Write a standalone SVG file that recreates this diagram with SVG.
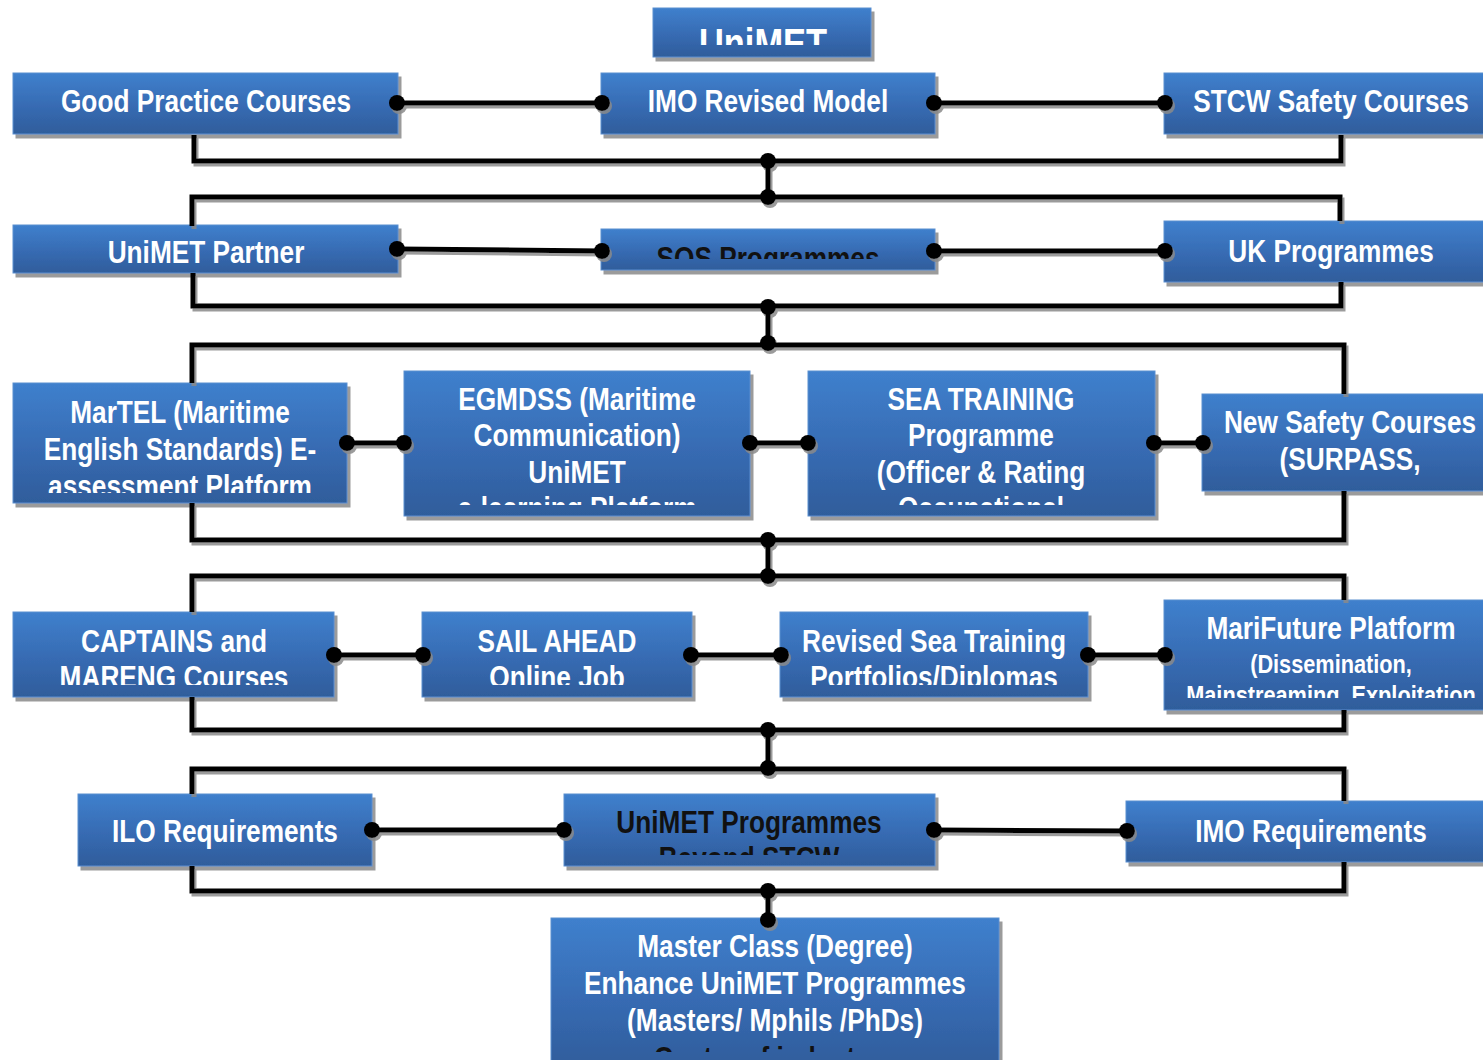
<svg xmlns="http://www.w3.org/2000/svg" width="1483" height="1060" viewBox="0 0 1483 1060">
<style>
.box{fill:url(#bg);stroke:#5b8fd0;stroke-width:1;filter:url(#bsh)}
.t{font-family:"Liberation Sans",Arial,sans-serif;font-weight:bold;font-size:32px;fill:#ffffff;text-anchor:middle}
.s{font-size:26.5px}
.big{font-size:42px}
.d{fill:#111111}
.ln{fill:none;stroke:#000;stroke-width:5}
.dot{fill:#000}
</style>
<defs>
<linearGradient id="bg" x1="0" y1="0" x2="0" y2="1">
<stop offset="0" stop-color="#3f80cd"/>
<stop offset="0.6" stop-color="#3669b0"/>
<stop offset="1" stop-color="#2f5d9b"/>
</linearGradient>
<filter id="bsh" x="-5%" y="-10%" width="115%" height="130%">
<feDropShadow dx="3" dy="4" stdDeviation="0.6" flood-color="#8a8a8a" flood-opacity="0.85"/>
</filter>
<filter id="csh" x="-5%" y="-5%" width="110%" height="110%">
<feDropShadow dx="2" dy="3" stdDeviation="0.6" flood-color="#8a8a8a" flood-opacity="0.85"/>
</filter>
<clipPath id="c_title"><rect x="653" y="8" width="218" height="37"/></clipPath>
<clipPath id="c_sos"><rect x="601" y="229" width="334" height="30"/></clipPath>
<clipPath id="c_martel"><rect x="13" y="383" width="334" height="110"/></clipPath>
<clipPath id="c_egm"><rect x="404" y="371" width="346" height="134"/></clipPath>
<clipPath id="c_sea"><rect x="808" y="371" width="347" height="134"/></clipPath>
<clipPath id="c_new"><rect x="1202" y="394" width="297" height="86"/></clipPath>
<clipPath id="c_cap"><rect x="13" y="612" width="321" height="73"/></clipPath>
<clipPath id="c_sail"><rect x="422" y="612" width="270" height="73"/></clipPath>
<clipPath id="c_rev"><rect x="780" y="612" width="308" height="73"/></clipPath>
<clipPath id="c_mari"><rect x="1164" y="600" width="335" height="98"/></clipPath>
<clipPath id="c_uprog"><rect x="564" y="794" width="371" height="61"/></clipPath>
<clipPath id="c_master"><rect x="551" y="918" width="448" height="134"/></clipPath>
</defs>
<rect width="1483" height="1060" fill="#ffffff"/>

<g id="n_title">
<rect class="box" x="653" y="8" width="218" height="49"/>
<g clip-path="url(#c_title)"><text class="t big" transform="translate(763 58) scale(0.82 1)">UniMET</text></g>
</g>

<g id="n_good">
<rect class="box" x="13" y="73" width="385" height="61"/>
<text class="t" transform="translate(206 112) scale(0.82 1)">Good Practice Courses</text>
</g>
<g id="n_imo">
<rect class="box" x="601" y="73" width="334" height="61"/>
<text class="t" transform="translate(768 112) scale(0.82 1)">IMO Revised Model</text>
</g>
<g id="n_stcw">
<rect class="box" x="1164" y="73" width="335" height="61"/>
<text class="t" transform="translate(1331 112) scale(0.82 1)">STCW Safety Courses</text>
</g>

<g id="n_partner">
<rect class="box" x="13" y="225" width="385" height="48"/>
<text class="t" transform="translate(206 263) scale(0.82 1)">UniMET Partner</text>
</g>
<g id="n_sos">
<rect class="box" x="601" y="229" width="334" height="41"/>
<g clip-path="url(#c_sos)"><text class="t d" transform="translate(768 269) scale(0.82 1)">SOS Programmes</text></g>
</g>
<g id="n_uk">
<rect class="box" x="1164" y="221" width="335" height="61"/>
<text class="t" transform="translate(1331 262) scale(0.82 1)">UK Programmes</text>
</g>

<g id="n_martel">
<rect class="box" x="13" y="383" width="334" height="120"/>
<g clip-path="url(#c_martel)">
<text class="t" transform="translate(180 423) scale(0.82 1)">MarTEL (Maritime</text>
<text class="t" transform="translate(180 460) scale(0.82 1)">English Standards) E-</text>
<text class="t" transform="translate(180 497) scale(0.82 1)">assessment Platform</text>
</g>
</g>
<g id="n_egmdss">
<rect class="box" x="404" y="371" width="346" height="145"/>
<g clip-path="url(#c_egm)">
<text class="t" transform="translate(577 410) scale(0.82 1)">EGMDSS (Maritime</text>
<text class="t" transform="translate(577 446) scale(0.82 1)">Communication)</text>
<text class="t" transform="translate(577 483) scale(0.82 1)">UniMET</text>
<text class="t" transform="translate(577 519) scale(0.82 1)">e-learning Platform</text>
</g>
</g>
<g id="n_sea">
<rect class="box" x="808" y="371" width="347" height="145"/>
<g clip-path="url(#c_sea)">
<text class="t" transform="translate(981 410) scale(0.82 1)">SEA TRAINING</text>
<text class="t" transform="translate(981 446) scale(0.82 1)">Programme</text>
<text class="t" transform="translate(981 483) scale(0.82 1)">(Officer &amp; Rating</text>
<text class="t" transform="translate(981 519) scale(0.82 1)">Occupational</text>
</g>
</g>
<g id="n_newsafety">
<rect class="box" x="1202" y="394" width="297" height="97"/>
<g clip-path="url(#c_new)">
<text class="t" transform="translate(1350 433) scale(0.82 1)">New Safety Courses</text>
<text class="t" transform="translate(1350 470) scale(0.82 1)">(SURPASS,</text>
</g>
</g>

<g id="n_captains">
<rect class="box" x="13" y="612" width="321" height="85"/>
<g clip-path="url(#c_cap)">
<text class="t" transform="translate(174 652) scale(0.82 1)">CAPTAINS and</text>
<text class="t" transform="translate(174 688) scale(0.82 1)">MARENG Courses</text>
</g>
</g>
<g id="n_sail">
<rect class="box" x="422" y="612" width="270" height="85"/>
<g clip-path="url(#c_sail)">
<text class="t" transform="translate(557 652) scale(0.82 1)">SAIL AHEAD</text>
<text class="t" transform="translate(557 688) scale(0.82 1)">Online Job</text>
</g>
</g>
<g id="n_revised">
<rect class="box" x="780" y="612" width="308" height="85"/>
<g clip-path="url(#c_rev)">
<text class="t" transform="translate(934 652) scale(0.82 1)">Revised Sea Training</text>
<text class="t" transform="translate(934 688) scale(0.82 1)">Portfolios/Diplomas</text>
</g>
</g>
<g id="n_marifuture">
<rect class="box" x="1164" y="600" width="335" height="110"/>
<g clip-path="url(#c_mari)">
<text class="t" transform="translate(1331 639) scale(0.82 1)">MariFuture Platform</text>
<text class="t s" transform="translate(1331 673) scale(0.82 1)">(Dissemination,</text>
<text class="t s" transform="translate(1331 704) scale(0.82 1)">Mainstreaming, Exploitation</text>
</g>
</g>

<g id="n_ilo">
<rect class="box" x="78" y="794" width="294" height="72"/>
<text class="t" transform="translate(225 842) scale(0.82 1)">ILO Requirements</text>
</g>
<g id="n_unimetprog">
<rect class="box" x="564" y="794" width="371" height="72"/>
<g clip-path="url(#c_uprog)">
<text class="t d" transform="translate(749 833) scale(0.82 1)">UniMET Programmes</text>
<text class="t d" transform="translate(749 869) scale(0.82 1)">Beyond STCW</text>
</g>
</g>
<g id="n_imoreq">
<rect class="box" x="1126" y="801" width="373" height="61"/>
<text class="t" transform="translate(1311 842) scale(0.82 1)">IMO Requirements</text>
</g>

<g id="n_master">
<rect class="box" x="551" y="918" width="448" height="150"/>
<g clip-path="url(#c_master)">
<text class="t" transform="translate(775 957) scale(0.82 1)">Master Class (Degree)</text>
<text class="t" transform="translate(775 994) scale(0.82 1)">Enhance UniMET Programmes</text>
<text class="t" transform="translate(775 1031) scale(0.82 1)">(Masters/ Mphils /PhDs)</text>
<text class="t d" transform="translate(767 1069) scale(0.82 1)">Centre of industry</text>
</g>
</g>

<g id="connectors" filter="url(#csh)">
<path class="ln" d="M397 103H602M934 103H1165"/>
<path class="ln" d="M194 135V161H1341V135M768 161V197M192 226V197H1340V221"/>
<path class="ln" d="M397 249L602 251M934 251H1165"/>
<path class="ln" d="M193 273V306H1341V282M768 307V343M192 383V345H1344V394"/>
<path class="ln" d="M347 443H404M750 443H808M1154 443H1203"/>
<path class="ln" d="M192 503V540H1344V491M768 540V576M192 612V576H1344V600"/>
<path class="ln" d="M334 655H423M691 655H781M1088 655H1165"/>
<path class="ln" d="M192 697V730H1344V710M768 730V768M192 794V769H1344V801"/>
<path class="ln" d="M372 830H564M934 830L1127 831"/>
<path class="ln" d="M192 866V891H1344V862M768 891V920"/>
<g class="dot">
<circle cx="397" cy="103" r="8"/><circle cx="602" cy="103" r="8"/><circle cx="934" cy="103" r="8"/><circle cx="1165" cy="103" r="8"/>
<circle cx="768" cy="161" r="8"/><circle cx="768" cy="197" r="8"/>
<circle cx="397" cy="249" r="8"/><circle cx="602" cy="251" r="8"/><circle cx="934" cy="251" r="8"/><circle cx="1165" cy="251" r="8"/>
<circle cx="768" cy="307" r="8"/><circle cx="768" cy="343" r="8"/>
<circle cx="347" cy="443" r="8"/><circle cx="404" cy="443" r="8"/><circle cx="750" cy="443" r="8"/><circle cx="808" cy="443" r="8"/><circle cx="1154" cy="443" r="8"/><circle cx="1203" cy="443" r="8"/>
<circle cx="768" cy="540" r="8"/><circle cx="768" cy="576" r="8"/>
<circle cx="334" cy="655" r="8"/><circle cx="423" cy="655" r="8"/><circle cx="691" cy="655" r="8"/><circle cx="781" cy="655" r="8"/><circle cx="1088" cy="655" r="8"/><circle cx="1165" cy="655" r="8"/>
<circle cx="768" cy="730" r="8"/><circle cx="768" cy="768" r="8"/>
<circle cx="372" cy="830" r="8"/><circle cx="564" cy="830" r="8"/><circle cx="934" cy="830" r="8"/><circle cx="1127" cy="831" r="8"/>
<circle cx="768" cy="891" r="8"/><circle cx="768" cy="920" r="8"/>
</g>
</g>
</svg>
